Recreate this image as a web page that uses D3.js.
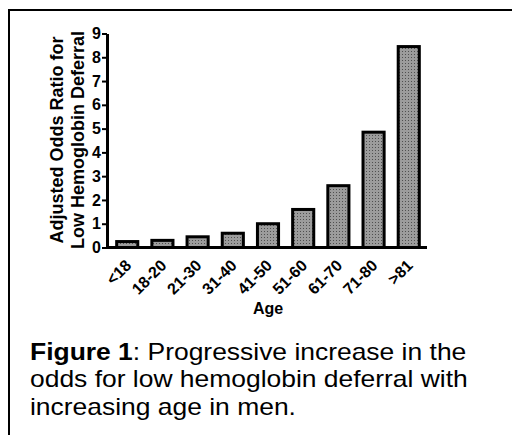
<!DOCTYPE html>
<html lang="en">
<head>
  <meta charset="UTF-8">
  <title>Adjusted Odds Ratio by Age</title>
  <style>
      body { margin: 0; background: white; }
      svg { display: block; font-family: "Liberation Sans", Arial, sans-serif; }
      .axis path, .axis line { stroke: black; }
      .axis text { font-weight: bold; fill: black; }
  </style>
</head>
<body>
<div id="chart"></div>
<script src="https://d3js.org/d3.v7.min.js"></script>
<script>
  const categories = ['<18', '18-20', '21-30', '31-40', '41-50', '51-60', '61-70', '71-80', '>81'];
  const oddsRatio = [0.25, 0.3, 0.45, 0.6, 1.0, 1.6, 2.6, 4.85, 8.45];
  const yTicks = [0, 1, 2, 3, 4, 5, 6, 7, 8, 9];

  const W = 512, H = 435;
  const plot = {left: 107, right: 427, top: 33.5, bottom: 247.5};

  const svg = d3.select("#chart").append("svg")
    .attr("width", W)
    .attr("height", H);

  // halftone fill like the original
  const pat = svg.append("defs").append("pattern")
    .attr("id", "dots")
    .attr("patternUnits", "userSpaceOnUse")
    .attr("width", 3)
    .attr("height", 3);
  pat.append("rect").attr("width", 3).attr("height", 3).attr("fill", "#9c9c9c");
  pat.append("rect").attr("width", 1).attr("height", 1).attr("fill", "#505050");

  // frame
  svg.append("path")
    .attr("d", `M9,${H} V10 H${W}`)
    .attr("fill", "none")
    .attr("stroke", "black")
    .attr("stroke-width", 2);

  const x = d3.scaleBand()
    .domain(categories)
    .range([plot.left, plot.right + 2])
    .paddingInner(0.4)
    .paddingOuter(0.275);

  const y = d3.scaleLinear()
    .domain([0, 9])
    .range([plot.bottom, plot.top]);

  // bars
  svg.selectAll(".bar")
    .data(oddsRatio)
    .enter().append("rect")
    .attr("class", "bar")
    .attr("x", (d, i) => x(categories[i]))
    .attr("y", d => y(d))
    .attr("width", x.bandwidth())
    .attr("height", d => y(0) - y(d))
    .attr("fill", "url(#dots)")
    .attr("stroke", "black")
    .attr("stroke-width", 3);

  // x axis line
  svg.append("line")
    .attr("x1", plot.left)
    .attr("x2", plot.right)
    .attr("y1", y(0))
    .attr("y2", y(0))
    .attr("stroke", "black")
    .attr("stroke-width", 3);

  // y axis
  const yAxis = svg.append("g")
    .attr("class", "axis")
    .attr("transform", `translate(${plot.left},0)`)
    .call(d3.axisLeft(y).tickValues(yTicks).tickSize(5).tickPadding(1).tickSizeOuter(0));
  yAxis.select(".domain").attr("stroke-width", 3);
  yAxis.selectAll(".tick line").attr("stroke-width", 2);
  yAxis.selectAll("text").style("font-size", "16px");

  // x tick labels, rotated
  svg.selectAll(".xlab")
    .data(categories)
    .enter().append("text")
    .attr("class", "xlab")
    .attr("transform", d => `translate(${x(d) + x.bandwidth() / 2 + 5},${y(0) + 19}) rotate(-45)`)
    .attr("text-anchor", "end")
    .style("font-size", "16px")
    .style("font-weight", "bold")
    .text(d => d);

  svg.append("text")
    .attr("x", 268)
    .attr("y", 314)
    .attr("text-anchor", "middle")
    .style("font-size", "16px")
    .style("font-weight", "bold")
    .text("Age");

  // y title, two lines
  const yTitle = ["Adjusted Odds Ratio for", "Low Hemoglobin Deferral"];
  svg.selectAll(".ytitle")
    .data(yTitle)
    .enter().append("text")
    .attr("class", "ytitle")
    .attr("transform", (d, i) => `translate(${63 + i * 21},140) rotate(-90)`)
    .attr("text-anchor", "middle")
    .style("font-size", "18px")
    .style("font-weight", "bold")
    .text(d => d);

  // caption (the original glyphs are a little wider than Arial)
  const caption = svg.append("text")
    .attr("transform", "translate(30,0) scale(1.15,1)")
    .style("font-size", "23px")
    .attr("fill", "black");
  const l1 = caption.append("tspan").attr("x", 0).attr("y", 360);
  l1.append("tspan").style("font-weight", "bold").text("Figure 1");
  l1.append("tspan").text(": Progressive increase in the");
  caption.append("tspan").attr("x", 0).attr("y", 387.5)
    .text("odds for low hemoglobin deferral with");
  caption.append("tspan").attr("x", 0).attr("y", 415)
    .text("increasing age in men.");
</script>
</body>
</html>
